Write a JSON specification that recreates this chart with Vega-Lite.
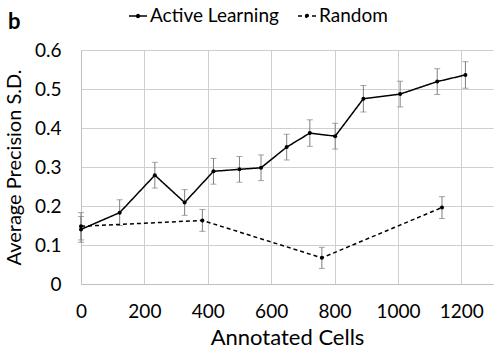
{
  "$schema": "https://vega.github.io/schema/vega-lite/v6.json",
  "width": 412,
  "height": 234,
  "autosize": "none",
  "padding": {"left": 81, "top": 50, "right": 7, "bottom": 76},
  "background": "white",
  "title": {"text": "b", "anchor": "start", "frame": "group", "dx": -73, "offset": -28, "fontSize": 22, "fontWeight": "bold", "font": "Lato", "color": "#000000"},
  "data": {
    "values": [
      {"series": "Active Learning", "cells": 0, "sd": 0.140, "lo": 0.107, "hi": 0.173},
      {"series": "Active Learning", "cells": 122, "sd": 0.183, "lo": 0.150, "hi": 0.216},
      {"series": "Active Learning", "cells": 233, "sd": 0.279, "lo": 0.246, "hi": 0.312},
      {"series": "Active Learning", "cells": 327, "sd": 0.209, "lo": 0.176, "hi": 0.242},
      {"series": "Active Learning", "cells": 418, "sd": 0.289, "lo": 0.256, "hi": 0.322},
      {"series": "Active Learning", "cells": 500, "sd": 0.294, "lo": 0.261, "hi": 0.327},
      {"series": "Active Learning", "cells": 568, "sd": 0.298, "lo": 0.265, "hi": 0.331},
      {"series": "Active Learning", "cells": 649, "sd": 0.351, "lo": 0.318, "hi": 0.384},
      {"series": "Active Learning", "cells": 722, "sd": 0.387, "lo": 0.353, "hi": 0.421},
      {"series": "Active Learning", "cells": 802, "sd": 0.379, "lo": 0.346, "hi": 0.412},
      {"series": "Active Learning", "cells": 891, "sd": 0.475, "lo": 0.441, "hi": 0.509},
      {"series": "Active Learning", "cells": 1007, "sd": 0.487, "lo": 0.454, "hi": 0.520},
      {"series": "Active Learning", "cells": 1124, "sd": 0.519, "lo": 0.486, "hi": 0.552},
      {"series": "Active Learning", "cells": 1213, "sd": 0.536, "lo": 0.502, "hi": 0.570},
      {"series": "Random", "cells": 0, "sd": 0.148, "lo": 0.113, "hi": 0.183},
      {"series": "Random", "cells": 383, "sd": 0.163, "lo": 0.135, "hi": 0.191},
      {"series": "Random", "cells": 760, "sd": 0.067, "lo": 0.040, "hi": 0.094},
      {"series": "Random", "cells": 1139, "sd": 0.196, "lo": 0.168, "hi": 0.224}
    ]
  },
  "encoding": {
    "x": {
      "field": "cells", "type": "quantitative",
      "scale": {"domain": [0, 1300], "nice": false, "zero": false},
      "axis": {"title": "Annotated Cells", "values": [0, 200, 400, 600, 800, 1000, 1200], "format": "d", "grid": true, "labelOverlap": false, "labelFlush": false, "labelPadding": 18, "titlePadding": 6, "titleFontSize": 22, "labelFontSize": 19}
    }
  },
  "layer": [
    {
      "mark": {"type": "rule", "color": "#7f7f7f", "strokeWidth": 1},
      "encoding": {
        "y": {"field": "lo", "type": "quantitative", "scale": {"domain": [0, 0.6], "nice": false}, "axis": {"title": "Average Precision S.D.", "values": [0, 0.1, 0.2, 0.3, 0.4, 0.5, 0.6], "format": "~g", "grid": true, "gridColor": "#cfcfcf", "labelOverlap": false, "labelPadding": 20, "titlePadding": 10, "titleFontSize": 20, "labelFontSize": 19}},
        "y2": {"field": "hi"}
      }
    },
    {
      "mark": {"type": "tick", "orient": "horizontal", "color": "#7f7f7f", "size": 6, "thickness": 1},
      "encoding": {"y": {"field": "lo", "type": "quantitative", "axis": {"title": "Average Precision S.D.", "values": [0, 0.1, 0.2, 0.3, 0.4, 0.5, 0.6], "format": "~g", "grid": true, "gridColor": "#cfcfcf", "labelOverlap": false, "labelPadding": 20, "titlePadding": 10, "titleFontSize": 20, "labelFontSize": 19}}}
    },
    {
      "mark": {"type": "tick", "orient": "horizontal", "color": "#7f7f7f", "size": 6, "thickness": 1},
      "encoding": {"y": {"field": "hi", "type": "quantitative", "axis": {"title": "Average Precision S.D.", "values": [0, 0.1, 0.2, 0.3, 0.4, 0.5, 0.6], "format": "~g", "grid": true, "gridColor": "#cfcfcf", "labelOverlap": false, "labelPadding": 20, "titlePadding": 10, "titleFontSize": 20, "labelFontSize": 19}}}
    },
    {
      "mark": {"type": "line", "color": "#000000", "strokeWidth": 1.5},
      "encoding": {
        "y": {"field": "sd", "type": "quantitative", "axis": {"title": "Average Precision S.D.", "values": [0, 0.1, 0.2, 0.3, 0.4, 0.5, 0.6], "format": "~g", "grid": true, "gridColor": "#cfcfcf", "labelOverlap": false, "labelPadding": 20, "titlePadding": 10, "titleFontSize": 20, "labelFontSize": 19}},
        "strokeDash": {
          "field": "series", "type": "nominal",
          "scale": {"domain": ["Active Learning", "Random"], "range": [[1, 0], [4, 3]]},
          "legend": {"title": null, "orient": "none", "direction": "horizontal", "legendX": 47, "legendY": -44, "padding": 0, "labelFontSize": 19, "symbolSize": 324, "columnPadding": 16, "labelOffset": 2, "symbolType": "M-1,0L1,0M-0.17,0A0.17,0.17 0 1,1 0.17,0A0.17,0.17 0 1,1 -0.17,0", "symbolStrokeColor": "#000000", "symbolFillColor": "#000000", "symbolStrokeWidth": 1.3}
        },
        "detail": {"field": "series"}
      }
    },
    {
      "mark": {"type": "point", "filled": true, "color": "#000000", "size": 16, "opacity": 1},
      "encoding": {"y": {"field": "sd", "type": "quantitative", "axis": {"title": "Average Precision S.D.", "values": [0, 0.1, 0.2, 0.3, 0.4, 0.5, 0.6], "format": "~g", "grid": true, "gridColor": "#cfcfcf", "labelOverlap": false, "labelPadding": 20, "titlePadding": 10, "titleFontSize": 20, "labelFontSize": 19}}}
    }
  ],
  "config": {
    "font": "Lato",
    "view": {"stroke": null},
    "axis": {"gridColor": "#cfcfcf", "gridWidth": 1, "domainColor": "#bfbfbf", "ticks": false, "labelColor": "#000000", "titleColor": "#000000", "titleFontWeight": "normal", "labelFont": "Lato", "titleFont": "Lato"},
    "legend": {"labelColor": "#000000", "labelFont": "Lato"}
  }
}
